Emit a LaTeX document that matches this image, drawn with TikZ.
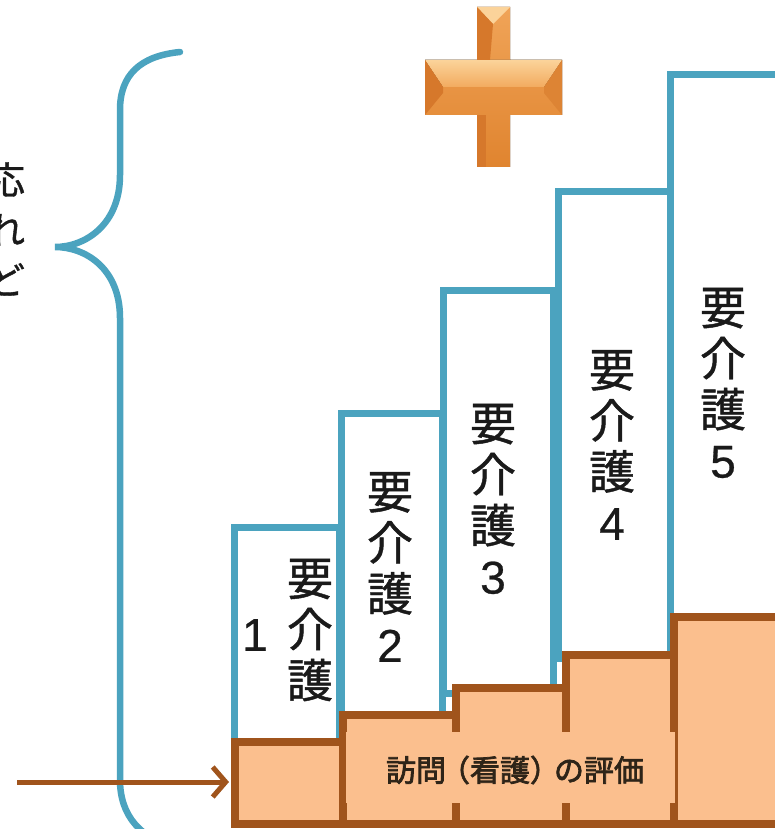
\documentclass[tikz,border=0pt]{standalone}
\usepackage{fontspec}
\newfontfamily\jp[FakeBold=1]{Noto Sans CJK JP}
\newfontfamily\jpb[FakeBold=2.5]{Noto Sans CJK JP}
\newfontfamily\num[FakeBold=0.6]{Liberation Sans}
\usetikzlibrary{arrows.meta}
\definecolor{tealline}{HTML}{4BA3BF}
\definecolor{brn}{HTML}{A0541C}
\definecolor{peach}{HTML}{FBBF8E}
\definecolor{ink}{HTML}{1A1A1A}
\definecolor{lblink}{HTML}{2E2418}
\definecolor{orA}{HTML}{F0A458}
\definecolor{orB}{HTML}{E0842F}
\definecolor{orLight}{HTML}{FBD39A}
\definecolor{orMid}{HTML}{F2AB5F}
\definecolor{orDark}{HTML}{D6782B}
\definecolor{orDark2}{HTML}{DD8434}
\newcommand{\dg}[1]{{\num #1}}
\begin{document}
\begin{tikzpicture}[x=1pt,y=-1pt,
  bluebox/.style={draw=tealline, line width=7pt, fill=white, anchor=north west, inner sep=0pt},
  brownbox/.style={draw=brn, line width=8pt, fill=peach, anchor=north west, inner sep=0pt},
  vtext/.style={font=\jp\fontsize{46}{51}\selectfont, align=center, inner sep=0pt, text=ink},
  sidetext/.style={font=\jp\fontsize{38}{50}\selectfont, align=center, inner sep=0pt, text=ink},
  lbltext/.style={font=\jpb\fontsize{30}{32}\selectfont, inner sep=0pt, text=lblink}]
\useasboundingbox (0,0) rectangle (775,829);
\fill[white] (0,0) rectangle (775,829);
\begin{scope}
\clip (0,0) rectangle (775,829);
% left cut text
\node[sidetext] (side) at (6,229) {応\\れ\\ど};
% brace
\draw[tealline, line width=6.5pt, line cap=round]
  (180,52) .. controls (140,56) and (120,75) .. (120,110)
  -- (120,175) .. controls (120,225) and (85,247) .. (55,247)
  .. controls (85,247) and (120,268) .. (120,318)
  -- (120,780) .. controls (120,815) and (140,840) .. (180,848);
% cross
\fill[top color=orA, bottom color=orB]
  (477,7) -- (510,7) -- (510,60) -- (562,60) -- (562,115) -- (510,115) -- (510,167)
  -- (477,167) -- (477,115) -- (425,115) -- (425,60) -- (477,60) -- cycle;
\fill[top color=orLight, bottom color=orMid] (425,60) -- (562,60) -- (544,87) -- (443,87) -- cycle;
\fill[orDark] (425,60) -- (443,87) -- (443,93) -- (425,115) -- cycle;
\fill[orDark2] (562,60) -- (544,87) -- (544,93) -- (562,115) -- cycle;
\fill[orLight] (477,7) -- (510,7) -- (493,24) -- cycle;
\fill[orDark] (477,7) -- (493,24) -- (490,60) -- (477,60) -- cycle;
\fill[orDark] (477,115) -- (486,115) -- (486,167) -- (477,167) -- cycle;
% blue boxes
\node[bluebox, minimum width=105pt, minimum height=216pt] (b1) at (231,524) {};
\node[bluebox, minimum width=101pt, minimum height=305pt] (b2) at (338,410) {};
\node[bluebox, minimum width=110pt, minimum height=403pt] (b3) at (440,287) {};
\node[bluebox, minimum width=112pt, minimum height=467pt] (b4) at (555,188) {};
\node[bluebox, minimum width=150pt, minimum height=549pt] (b5) at (667,71) {};
% vertical texts
\node[vtext] (t1) at (310,630) {要\\介\\護};
\node[vtext] (t1n) at (255,635) {\dg{1}};
\node[vtext] (t2) at (390,567) {要\\介\\護\\\dg{2}};
\node[vtext] (t3) at (493,499) {要\\介\\護\\\dg{3}};
\node[vtext] (t4) at (612,445) {要\\介\\護\\\dg{4}};
\node[vtext] (t5) at (723,383) {要\\介\\護\\\dg{5}};
% brown boxes
\node[brownbox, minimum width=108pt, minimum height=82pt] (r1) at (231,738) {};
\node[brownbox, minimum width=113pt, minimum height=109pt] (r2) at (339,711) {};
\node[brownbox, minimum width=110pt, minimum height=136pt] (r3) at (452,684) {};
\node[brownbox, minimum width=108pt, minimum height=169pt] (r4) at (562,651) {};
\node[brownbox, minimum width=150pt, minimum height=207pt] (r5) at (670,613) {};
% label
\fill[peach] (346,732) rectangle (675,803);
\node[lbltext] (lbl) at (515,770) {訪問\kern-6pt（看護）\kern-6pt の評価};
% arrow
\coordinate (astart) at (17,782);
\draw[brn, line width=5pt, shorten >=2pt, -{Straight Barb[length=13pt,width=30pt,line width=5pt]}]
  (astart) -- (astart -| r1.west);
\end{scope}
\end{tikzpicture}
\end{document}
